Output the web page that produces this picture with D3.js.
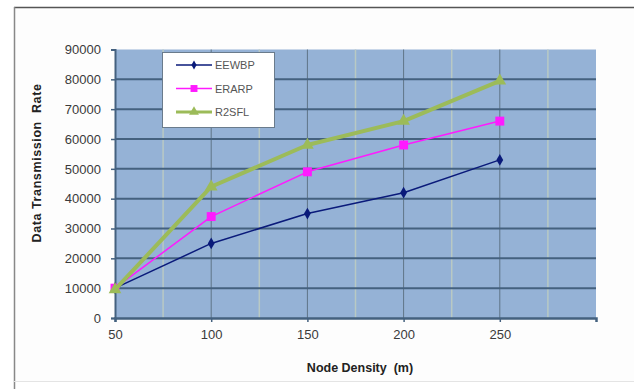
<!DOCTYPE html>
<html>
<head>
<meta charset="utf-8">
<script src="https://cdn.jsdelivr.net/npm/d3@7"></script>
<style>
  html, body { margin: 0; padding: 0; background: #ffffff; }
  svg { display: block; font-family: "Liberation Sans", Arial, sans-serif; }
</style>
</head>
<body>
<svg id="chart" width="634" height="389"></svg>
<script>
// Node density values on the x axis
const nodeDensity = [50, 100, 150, 200, 250];

// Data transmission rate for each protocol
const eewbp = [10000, 25000, 35000, 42000, 53000];
const erarp = [10000, 34000, 49000, 58000, 66000];
const r2sfl = [9500, 44000, 58000, 66000, 79500];

const xTicks = [50, 100, 150, 200, 250];
const yTicks = [0, 10000, 20000, 30000, 40000, 50000, 60000, 70000, 80000, 90000];

const seriesNames = ["EEWBP", "ERARP", "R2SFL"];

const svg = d3.select("#chart");

// outer frame of the chart object
svg.append("rect").attr("x", 14).attr("y", 7).attr("width", 640).attr("height", 374)
  .attr("fill", "#fdfdfd").attr("stroke", "none");
svg.append("line").attr("x1", 14).attr("x2", 634).attr("y1", 7.5).attr("y2", 7.5)
  .attr("stroke", "#555").attr("stroke-width", 1.5);
svg.append("line").attr("x1", 14.5).attr("x2", 14.5).attr("y1", 7).attr("y2", 389)
  .attr("stroke", "#888").attr("stroke-width", 1.5);
svg.append("line").attr("x1", 14).attr("x2", 634).attr("y1", 381.5).attr("y2", 381.5)
  .attr("stroke", "#e4e4e4").attr("stroke-width", 1);

const plot = { left: 115, right: 596, top: 49.5, bottom: 318 };

const x = d3.scaleLinear().domain([50, 300]).range([plot.left, plot.right]);
const y = d3.scaleLinear().domain([0, 90000]).range([plot.bottom, plot.top]);

// plot background
svg.append("rect")
  .attr("x", plot.left).attr("y", plot.top)
  .attr("width", plot.right - plot.left).attr("height", plot.bottom - plot.top)
  .attr("fill", "#95b2d6");

// minor vertical gridlines
const minorX = d3.range(75, 300, 50);
svg.append("g").selectAll("line").data(minorX).join("line")
  .attr("x1", d => x(d)).attr("x2", d => x(d))
  .attr("y1", plot.top).attr("y2", plot.bottom)
  .attr("stroke", "#b9c9c4").attr("stroke-width", 1.5);

// major vertical gridlines
svg.append("g").selectAll("line").data([100, 150, 200, 250]).join("line")
  .attr("x1", d => x(d)).attr("x2", d => x(d))
  .attr("y1", plot.top).attr("y2", plot.bottom)
  .attr("stroke", "#5f7487").attr("stroke-width", 1);

// horizontal gridlines
svg.append("g").selectAll("line").data(yTicks.slice(1, -1)).join("line")
  .attr("x1", plot.left).attr("x2", plot.right)
  .attr("y1", d => y(d)).attr("y2", d => y(d))
  .attr("stroke", "#44617f").attr("stroke-width", 2);

// y axis
const yAxis = svg.append("g").attr("transform", `translate(${plot.left},0)`)
  .call(d3.axisLeft(y).tickValues(yTicks).tickSize(4).tickPadding(10).tickFormat(d3.format("d")));
yAxis.select(".domain").attr("stroke", "#44617f").attr("stroke-width", 2);
yAxis.selectAll(".tick line").attr("stroke", "#44617f").attr("stroke-width", 1.5);
yAxis.selectAll("text").attr("fill", "#3a3a3a").style("font-size", "13px");

// x axis
const xAxis = svg.append("g").attr("transform", `translate(0,${plot.bottom})`)
  .call(d3.axisBottom(x).tickValues(xTicks).tickSize(4).tickPadding(8));
xAxis.select(".domain").attr("stroke", "#44617f").attr("stroke-width", 2.5);
xAxis.selectAll(".tick line").attr("stroke", "#44617f").attr("stroke-width", 1.5);
xAxis.selectAll("text").attr("fill", "#3a3a3a").style("font-size", "13px");

// axis titles
svg.append("text")
  .attr("transform", `translate(41,163) rotate(-90)`)
  .attr("text-anchor", "middle")
  .attr("font-weight", "bold").attr("font-size", "12.5px").attr("fill", "#222")
  .attr("letter-spacing", "0.6px")
  .attr("xml:space", "preserve")
  .text("Data Transmission  Rate");

svg.append("text")
  .attr("x", 360).attr("y", 372)
  .attr("text-anchor", "middle")
  .attr("font-weight", "bold").attr("font-size", "12.5px").attr("fill", "#222")
  .attr("xml:space", "preserve")
  .text("Node Density  (m)");

// series
const series = [
  { name: seriesNames[0], values: eewbp, color: "#0a1a7a", width: 1.5, marker: "diamond", size: 40 },
  { name: seriesNames[1], values: erarp, color: "#ff1aff", width: 1.5, marker: "square", size: 80 },
  { name: seriesNames[2], values: r2sfl, color: "#9cbb59", width: 4, marker: "triangle", size: 70 }
];

const line = d3.line().x((d, i) => x(nodeDensity[i])).y(d => y(d));
const symbolOf = { diamond: d3.symbolDiamond, square: d3.symbolSquare, triangle: d3.symbolTriangle };

series.forEach(s => {
  svg.append("path").datum(s.values)
    .attr("d", line).attr("fill", "none")
    .attr("stroke", s.color).attr("stroke-width", s.width)
    .attr("stroke-linejoin", "round");
  svg.append("g").selectAll("path").data(s.values).join("path")
    .attr("transform", (d, i) => `translate(${x(nodeDensity[i])},${y(d)})`)
    .attr("d", d3.symbol().type(symbolOf[s.marker]).size(s.size))
    .attr("fill", s.color);
});

// legend
const lg = svg.append("g").attr("transform", "translate(162,52)");
lg.append("rect").attr("x", 0.5).attr("y", 0.5).attr("width", 112).attr("height", 75)
  .attr("fill", "#ffffff").attr("stroke", "#6a7b8c").attr("stroke-width", 1);
series.forEach((s, i) => {
  const cy = 13 + i * 23.5;
  lg.append("line").attr("x1", 14).attr("x2", 50).attr("y1", cy).attr("y2", cy)
    .attr("stroke", s.color).attr("stroke-width", i === 2 ? 3 : 1.5);
  lg.append("path").attr("transform", `translate(32,${cy})`)
    .attr("d", d3.symbol().type(symbolOf[s.marker]).size(s.size * 0.6))
    .attr("fill", s.color);
  lg.append("text").attr("x", 53).attr("y", cy + 4)
    .attr("font-size", "11px").attr("fill", "#555").text(s.name);
});
</script>
</body>
</html>
